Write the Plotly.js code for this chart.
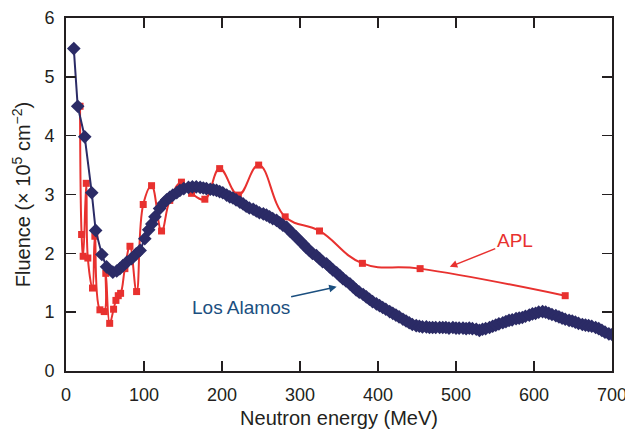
<!DOCTYPE html>
<html>
<head>
<meta charset="utf-8">
<script src="https://cdn.plot.ly/plotly-3.0.1.min.js"></script>
<style>html,body{margin:0;padding:0;background:#fff;}#chart{width:625px;height:429px;}</style>
</head>
<body>
<div id="chart"></div>
<script>
// APL measurements (MeV, fluence x1e5 cm^-2)
const aplEnergy = [18, 20, 22, 26, 28, 34, 37, 43.5, 49, 51, 56, 61, 64, 67, 70, 75.5, 82, 90.5, 99, 109.7, 122.5, 133, 148, 161, 178, 197, 221, 247, 281, 325, 380, 454, 640];
const aplFluence = [4.50, 2.32, 1.95, 3.19, 1.92, 1.41, 2.29, 1.04, 1.01, 1.66, 0.81, 1.05, 1.20, 1.28, 1.32, 1.74, 2.12, 1.35, 2.83, 3.15, 2.38, 2.90, 3.21, 3.02, 2.92, 3.44, 2.99, 3.50, 2.62, 2.38, 1.83, 1.74, 1.28];

// Los Alamos measurements
const laEnergy = [10, 15, 24, 33, 38, 46, 52, 60, 65, 69, 73, 78, 84, 90, 95, 101, 106, 110, 114, 120, 125, 129, 133, 137, 142, 146, 151, 157, 162, 167, 172, 176, 180, 185, 189, 193, 197, 201, 206, 210, 214, 218, 223, 227, 231, 235, 240, 244, 248, 253, 257, 261, 265, 270, 274, 278, 283, 287, 291, 295, 300, 304, 308, 312, 316, 321, 325, 329, 334, 338, 342, 347, 351, 355, 359, 364, 368, 372, 376, 381, 385, 389, 393, 398, 402, 406, 410, 415, 419, 423, 427, 432, 436, 440, 444, 449, 453, 457, 462, 466, 470, 474, 479, 483, 487, 491, 496, 500, 504, 509, 513, 517, 521, 526, 530, 534, 538, 543, 547, 551, 555, 560, 564, 568, 572, 577, 581, 585, 589, 594, 598, 602, 606, 611, 615, 619, 623, 628, 632, 636, 640, 645, 649, 653, 657, 662, 666, 670, 674, 679, 683, 687, 691, 696, 700];
const laFluence = [5.48, 4.50, 3.98, 3.03, 2.39, 1.98, 1.77, 1.68, 1.70, 1.74, 1.79, 1.85, 1.91, 1.99, 2.05, 2.25, 2.40, 2.50, 2.62, 2.76, 2.85, 2.91, 2.95, 2.99, 3.03, 3.07, 3.10, 3.12, 3.13, 3.13, 3.12, 3.11, 3.10, 3.09, 3.08, 3.07, 3.05, 3.03, 2.99, 2.96, 2.94, 2.91, 2.87, 2.84, 2.80, 2.77, 2.75, 2.72, 2.69, 2.67, 2.65, 2.62, 2.59, 2.56, 2.52, 2.48, 2.44, 2.38, 2.33, 2.28, 2.21, 2.16, 2.10, 2.05, 2.00, 1.96, 1.91, 1.86, 1.82, 1.77, 1.72, 1.67, 1.62, 1.57, 1.53, 1.48, 1.43, 1.38, 1.34, 1.30, 1.26, 1.22, 1.18, 1.14, 1.11, 1.08, 1.05, 1.01, 0.98, 0.95, 0.92, 0.88, 0.85, 0.82, 0.79, 0.77, 0.76, 0.75, 0.75, 0.74, 0.74, 0.74, 0.74, 0.74, 0.74, 0.73, 0.74, 0.73, 0.73, 0.73, 0.72, 0.73, 0.72, 0.71, 0.69, 0.71, 0.72, 0.74, 0.76, 0.78, 0.80, 0.82, 0.84, 0.86, 0.87, 0.89, 0.90, 0.91, 0.93, 0.95, 0.97, 0.98, 1.00, 1.01, 1.00, 0.98, 0.96, 0.94, 0.92, 0.90, 0.88, 0.86, 0.85, 0.83, 0.81, 0.79, 0.78, 0.77, 0.76, 0.74, 0.72, 0.69, 0.66, 0.63, 0.62];

const xTicks = [0, 100, 200, 300, 400, 500, 600, 700];
const yTicks = [0, 1, 2, 3, 4, 5, 6];

const red = '#e8312f';
const navy = '#2b2b66';
const axisCol = '#231f20';
const fontFam = 'Liberation Sans, Arial, Helvetica, sans-serif';

const traces = [
  {
    x: aplEnergy, y: aplFluence, type: 'scatter', mode: 'lines+markers',
    line: {color: red, width: 2, shape: 'spline', smoothing: 1.2},
    marker: {symbol: 'square', size: 7, color: red},
    cliponaxis: true, hoverinfo: 'skip'
  },
  {
    x: laEnergy, y: laFluence, type: 'scatter', mode: 'lines+markers',
    line: {color: navy, width: 2},
    marker: {symbol: 'diamond', size: 10.5, color: navy},
    cliponaxis: true, hoverinfo: 'skip'
  }
];

const axisCommon = {
  showline: true, linewidth: 2, linecolor: axisCol, mirror: 'ticks',
  ticks: 'inside', ticklen: 10, tickwidth: 1.5, tickcolor: axisCol,
  showgrid: false, zeroline: false,
  ticklabeloverflow: 'allow',
  tickfont: {family: fontFam, size: 18, color: axisCol}
};

const layout = {
  width: 625, height: 429,
  margin: {l: 66, r: 13, t: 18, b: 58, pad: 0},
  paper_bgcolor: '#ffffff', plot_bgcolor: '#ffffff',
  showlegend: false,
  font: {family: fontFam, color: axisCol},
  xaxis: Object.assign({}, axisCommon, {
    range: [0, 700], tickvals: xTicks, ticktext: xTicks.map(String),
    ticklabelstandoff: 6,
    title: {text: 'Neutron energy (MeV)', font: {family: fontFam, size: 20, color: axisCol}, standoff: 9}
  }),
  yaxis: Object.assign({}, axisCommon, {
    range: [0, 6], tickvals: yTicks, ticktext: yTicks.map(String),
    ticklabelstandoff: 6,
    title: {text: 'Fluence (\u00d7 10<sup>5</sup> cm<sup>\u22122</sup>)', font: {family: fontFam, size: 20, color: axisCol}, standoff: 8}
  }),
  annotations: [
    {
      x: 492, y: 1.77, xref: 'x', yref: 'y', text: 'APL', showarrow: true,
      ax: 65, ay: -26, arrowhead: 2, arrowsize: 1, arrowwidth: 1.5, arrowcolor: red,
      font: {family: fontFam, size: 19, color: red}
    },
    {
      x: 347, y: 1.43, xref: 'x', yref: 'y', text: 'Los Alamos', showarrow: true,
      ax: -96, ay: 21, arrowhead: 2, arrowsize: 1, arrowwidth: 1.5, arrowcolor: '#1b4f7f',
      font: {family: fontFam, size: 19, color: '#1b4f7f'}
    }
  ]
};

Plotly.newPlot('chart', traces, layout, {displayModeBar: false, staticPlot: true});
</script>
</body>
</html>
